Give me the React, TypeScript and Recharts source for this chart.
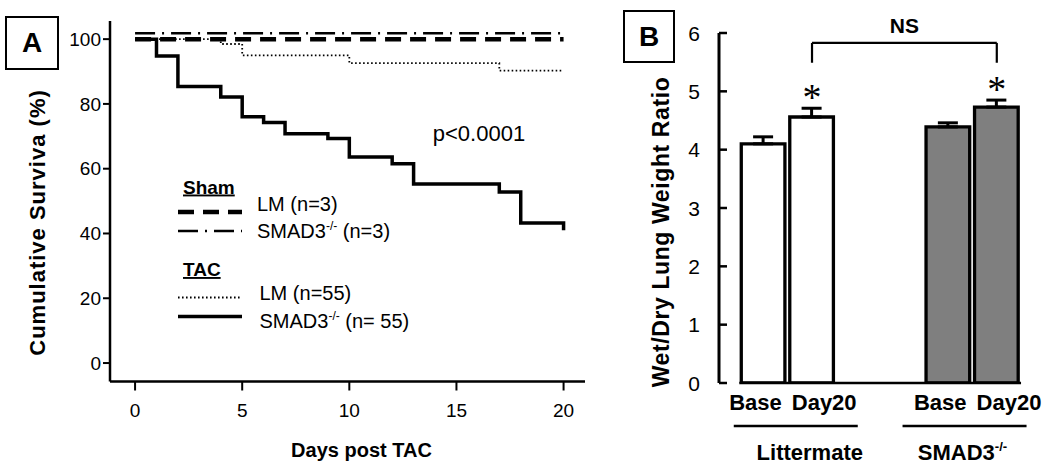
import React from 'react';
import {
  LineChart, Line, XAxis, YAxis, ReferenceDot, Legend, ComposedChart, Bar, Cell,
  ErrorBar, Scatter, ReferenceLine, Label,
} from 'recharts';

const FONT = '"Liberation Sans", Arial, Helvetica, sans-serif';

// ---------- Panel A data (Kaplan-Meier survival) ----------
const SHAM_LM_DAYS = [0, 20];
const SHAM_LM_SURV = [100, 100];
const SHAM_KO_DAYS = [0, 20];
const SHAM_KO_SURV = [101.8, 101.8];
const TAC_LM_DAYS = [0, 4, 5, 10, 17, 20];
const TAC_LM_SURV = [100, 98.5, 95.0, 92.6, 90.3, 90.3];
const TAC_KO_DAYS = [0, 1, 2, 4, 5, 6, 7, 9, 10, 12, 13, 17, 18, 20];
const TAC_KO_SURV = [100, 94.8, 85.4, 82.1, 76.0, 74.3, 70.8, 69.3, 63.6, 61.5, 55.3, 52.8, 43.2, 41.0];
const A_X_TICKS = [0, 5, 10, 15, 20];
const A_Y_TICKS = [0, 20, 40, 60, 80, 100];
const A_X_LABEL = 'Days post TAC';
const A_Y_LABEL = 'Cumulative Surviva (%)';
const P_VALUE = 'p<0.0001';
const LEGEND_GROUPS = ['Sham', 'TAC'];

// ---------- Panel B data (wet/dry lung weight) ----------
const B_GROUPS = ['Littermate', 'SMAD3-/-'];
const B_TIMEPOINTS = ['Base', 'Day20'];
const LITTERMATE_RATIO = [4.10, 4.56];
const LITTERMATE_SEM = [0.12, 0.15];
const SMAD3_RATIO = [4.39, 4.73];
const SMAD3_SEM = [0.07, 0.12];
const SIGNIFICANT = [false, true];
const B_Y_TICKS = [0, 1, 2, 3, 4, 5, 6];
const B_Y_LABEL = 'Wet/Dry Lung Weight Ratio';
const NS_LABEL = 'NS';
const BRACKET_TOP = 5.83;
const BRACKET_FOOT = 5.49;

// ---------- styles ----------
const SERIES_STYLE = [
  { dash: '16 9', width: 4.5 },
  { dash: '20 7 2 7', width: 2.5 },
  { dash: '1.6 2.4', width: 1.8 },
  { dash: undefined as string | undefined, width: 3.5 },
];
const GROUP_FILL = ['#ffffff', '#7f7f7f'];
const SLOT_PX = 48.5;
const GROUP_STRIDE = 3.81;
const GROUP_LINE_NUDGE = [8, -8];
const GROUP_TEXT_NUDGE = [22, -10];

const SERIES = [
  { group: 0, name: 'LM', n: '(n=3)', days: SHAM_LM_DAYS, surv: SHAM_LM_SURV },
  { group: 0, name: 'SMAD3-/-', n: '(n=3)', days: SHAM_KO_DAYS, surv: SHAM_KO_SURV },
  { group: 1, name: 'LM', n: '(n=55)', days: TAC_LM_DAYS, surv: TAC_LM_SURV },
  { group: 1, name: 'SMAD3-/-', n: '(n= 55)', days: TAC_KO_DAYS, surv: TAC_KO_SURV },
].map((s, i) => ({ ...s, data: s.days.map((d, j) => ({ day: d, v: s.surv[j] })), style: SERIES_STYLE[i] }));

const B_VALUES = [LITTERMATE_RATIO, SMAD3_RATIO];
const B_SEMS = [LITTERMATE_SEM, SMAD3_SEM];
const B_DATA = B_GROUPS.flatMap((g, gi) =>
  B_TIMEPOINTS.map((t, ti) => ({
    pos: gi * GROUP_STRIDE + ti,
    group: gi,
    tp: ti,
    label: t,
    ratio: B_VALUES[gi][ti],
    err: [0, B_SEMS[gi][ti]],
    top: B_VALUES[gi][ti] + B_SEMS[gi][ti],
    sig: SIGNIFICANT[ti],
  }))
);
const STAR_DATA = B_DATA.filter((d) => d.sig).map((d) => ({ pos: d.pos, top: d.top }));
const SIG_POS = STAR_DATA.map((d) => d.pos);

// renders "SMAD3-/-" with a superscript "-/-", followed by an optional suffix on the baseline
function withSup(text: string, size: number, suffix?: string) {
  const rise = size * 0.4;
  if (text.endsWith('-/-')) {
    const base = text.slice(0, -3);
    return [
      <tspan key="b">{base}</tspan>,
      <tspan key="s" fontSize={size * 0.6} dy={-rise}>-/-</tspan>,
      suffix ? <tspan key="r" dy={rise}>{' ' + suffix}</tspan> : null,
    ];
  }
  return [<tspan key="b">{text}</tspan>, suffix ? <tspan key="r">{' ' + suffix}</tspan> : null];
}

function SurvLegend() {
  const lineY = [42, 61, 127.5, 146.5];
  const textY = [41, 68, 130, 158];
  const textX = [87, 87, 89.5, 89.5];
  const headY = [23.5, 106];
  return (
    <svg width={280} height={175} style={{ overflow: 'visible', display: 'block' }}>
      {LEGEND_GROUPS.map((g, gi) => (
        <text key={g} x={13} y={headY[gi]} fontSize={19} fontWeight="bold" fontFamily={FONT} fill="#000"
          textDecoration="underline">{g}</text>
      ))}
      {SERIES.map((s, i) => (
        <g key={i}>
          <line x1={8} x2={72} y1={lineY[i]} y2={lineY[i]} stroke="#000" strokeWidth={s.style.width}
            strokeDasharray={s.style.dash} />
          <text x={textX[i]} y={textY[i]} fontSize={20} fontFamily={FONT} fill="#000">
            {withSup(s.name, 20, s.n)}
          </text>
        </g>
      ))}
    </svg>
  );
}

function PanelA() {
  return (
    <LineChart width={600} height={470} margin={{ top: 21, right: 15, bottom: 58.5, left: 50 }}>
      <XAxis type="number" dataKey="day" domain={[-1.17, 21]} ticks={A_X_TICKS} allowDataOverflow
        height={30} axisLine={{ stroke: '#000', strokeWidth: 2.5 }} tickLine={{ stroke: '#000', strokeWidth: 2 }}
        tickSize={9} tickMargin={13} tick={{ fill: '#000', fontSize: 19, fontFamily: FONT }}>
        <Label content={() => (
          <text x={361.5} y={457} textAnchor="middle" fontSize={20} fontWeight="bold" fontFamily={FONT} fill="#000">
            {A_X_LABEL}
          </text>
        )} />
      </XAxis>
      <YAxis type="number" domain={[-5.7, 105.6]} ticks={A_Y_TICKS} allowDataOverflow width={60}
        axisLine={{ stroke: '#000', strokeWidth: 2.5 }} tickLine={{ stroke: '#000', strokeWidth: 2 }}
        tickSize={7} tickMargin={2} tick={{ fill: '#000', fontSize: 19, fontFamily: FONT }}>
        <Label content={() => (
          <text x={37} y={222.5} transform="rotate(-90, 37, 222.5)" textAnchor="middle" dominantBaseline="central"
            fontSize={22} letterSpacing={1} fontWeight="bold" fontFamily={FONT} fill="#000">
            {A_Y_LABEL}
          </text>
        )} />
      </YAxis>
      {[2, 1, 0, 3].map((i) => {
        const s = SERIES[i];
        return (
          <Line key={i} data={s.data} dataKey="v" type="stepAfter" stroke="#000" strokeWidth={s.style.width}
            strokeDasharray={s.style.dash} dot={false} activeDot={false} isAnimationActive={false} />
        );
      })}
      <ReferenceDot x={16.05} y={71} r={0} fill="none" stroke="none" ifOverflow="visible"
        label={{ value: P_VALUE, position: 'center', fontSize: 22, fill: '#000', fontFamily: FONT }} />
      <Legend layout="vertical" align="center" verticalAlign="middle" content={() => <SurvLegend />}
        wrapperStyle={{ position: 'absolute', left: 170, top: 170, width: 280, height: 175 }} />
    </LineChart>
  );
}

const BYTick = (props: any) => {
  const { x, y, payload } = props;
  return (
    <g>
      <text x={x} y={y} dy={7.5} textAnchor="end" fontSize={21} fontFamily={FONT} fill="#000">{payload.value}</text>
      <line x1={x + 19} x2={x + 27} y1={y} y2={y} stroke="#000" strokeWidth={2.5} />
    </g>
  );
};

const BXTick = (props: any) => {
  const { x, y, index } = props;
  const d = B_DATA[index];
  if (!d) return null;
  const half = SLOT_PX / 2;
  const first = d.tp === 0;
  const lx = first ? x + half - 6 : x - half + 4;
  const gc = x - half;
  return (
    <g>
      <text x={lx} y={y + 27} textAnchor={first ? 'end' : 'start'} fontSize={22} fontWeight="bold"
        fontFamily={FONT} fill="#000">{d.label}</text>
      {!first && (
        <g>
          <line x1={gc - 62 + GROUP_LINE_NUDGE[d.group]} x2={gc + 62 + GROUP_LINE_NUDGE[d.group]} y1={y + 43} y2={y + 43}
            stroke="#000" strokeWidth={2.5} />
          <text x={gc + GROUP_TEXT_NUDGE[d.group]} y={y + 77} textAnchor="middle" fontSize={22} fontWeight="bold"
            fontFamily={FONT} fill="#000">{withSup(B_GROUPS[d.group], 22)}</text>
        </g>
      )}
    </g>
  );
};

const StarShape = (props: any) => {
  const { cx, cy } = props;
  return (
    <text x={cx} y={cy + 2} textAnchor="middle" fontSize={38} fontFamily='"Liberation Serif", "Times New Roman", serif'
      fill="#000">*</text>
  );
};

function PanelB() {
  const first = B_DATA[0].pos - 0.5;
  const last = B_DATA[B_DATA.length - 1].pos + 0.5;
  return (
    <ComposedChart width={450} height={470} data={B_DATA} margin={{ top: 33, right: 10, bottom: 0, left: 59 }}>
      <XAxis type="number" dataKey="pos" domain={[-0.918, 5.701]} allowDataOverflow ticks={B_DATA.map((d) => d.pos)}
        height={87} axisLine={false} tickLine={false} tickSize={0} tickMargin={0} tick={<BXTick />} interval={0} />
      <YAxis type="number" domain={[0, 6]} ticks={B_Y_TICKS} width={60} allowDataOverflow
        axisLine={{ stroke: '#000', strokeWidth: 3 }} tickLine={false} tickSize={0} tickMargin={19} tick={<BYTick />}>
        <Label content={() => (
          <text x={61} y={232} transform="rotate(-90, 61, 232)" textAnchor="middle" dominantBaseline="central"
            fontSize={23} letterSpacing={0.6} fontWeight="bold" fontFamily={FONT} fill="#000">
            {B_Y_LABEL}
          </text>
        )} />
      </YAxis>
      <ReferenceLine segment={[{ x: first, y: 0 }, { x: last, y: 0 }]} stroke="#000" strokeWidth={2.5} ifOverflow="visible" />
      <Bar dataKey="ratio" barSize={SLOT_PX} stroke="#000" strokeWidth={3.3} isAnimationActive={false}>
        {B_DATA.map((d, i) => (
          <Cell key={i} fill={GROUP_FILL[d.group]} />
        ))}
        <ErrorBar dataKey="err" width={10} strokeWidth={3} stroke="#000" direction="y" />
      </Bar>
      <Scatter data={STAR_DATA} dataKey="top" shape={<StarShape />} isAnimationActive={false} />
      <ReferenceLine segment={[{ x: SIG_POS[0], y: BRACKET_FOOT }, { x: SIG_POS[0], y: BRACKET_TOP }]}
        stroke="#000" strokeWidth={2.2} ifOverflow="visible" />
      <ReferenceLine segment={[{ x: SIG_POS[1], y: BRACKET_FOOT }, { x: SIG_POS[1], y: BRACKET_TOP }]}
        stroke="#000" strokeWidth={2.2} ifOverflow="visible" />
      <ReferenceLine segment={[{ x: SIG_POS[0], y: BRACKET_TOP }, { x: SIG_POS[1], y: BRACKET_TOP }]}
        stroke="#000" strokeWidth={2.2} ifOverflow="visible"
        label={{ value: NS_LABEL, position: 'top', offset: 10, fontSize: 21, fontWeight: 'bold', fill: '#000', fontFamily: FONT }} />
    </ComposedChart>
  );
}

const boxStyle = (left: number, top: number, w: number, h: number): React.CSSProperties => ({
  position: 'absolute', left, top, width: w, height: h, boxSizing: 'border-box', border: '2.5px solid #000',
  display: 'flex', alignItems: 'center', justifyContent: 'center', fontFamily: FONT, fontWeight: 'bold',
  fontSize: 28, color: '#000', background: '#fff',
});

export default function App() {
  return (
    <div style={{ position: 'absolute', left: 0, top: 0, width: 1050, height: 470, background: '#fff', overflow: 'hidden' }}>
      <div style={{ position: 'absolute', left: 0, top: 0 }}>
        <PanelA />
      </div>
      <div style={{ position: 'absolute', left: 600, top: 0 }}>
        <PanelB />
      </div>
      <div style={boxStyle(5, 16, 54, 54)}>A</div>
      <div style={boxStyle(623, 10, 52, 53)}>B</div>
    </div>
  );
}
